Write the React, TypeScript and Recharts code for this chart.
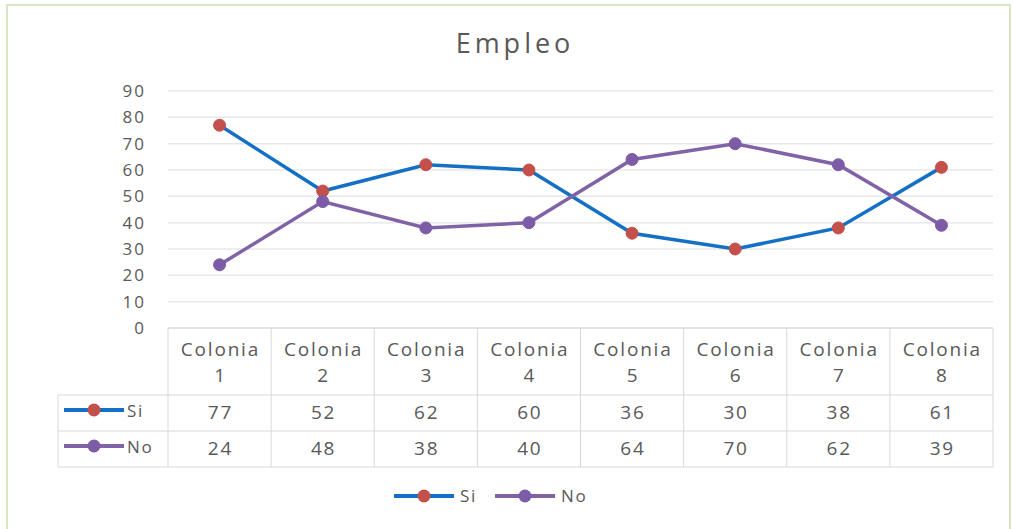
import { LineChart, Line, XAxis, YAxis, CartesianGrid, Legend } from "recharts";

const categories = ["Colonia 1", "Colonia 2", "Colonia 3", "Colonia 4", "Colonia 5", "Colonia 6", "Colonia 7", "Colonia 8"];
const si = [77, 52, 62, 60, 36, 30, 38, 61];
const no = [24, 48, 38, 40, 64, 70, 62, 39];
const yTicks = [0, 10, 20, 30, 40, 50, 60, 70, 80, 90];

const series = [
  { key: "si", name: "Si", line: "#1470c4", dot: "#c4504c" },
  { key: "no", name: "No", line: "#8062a6", dot: "#7c5ca6" },
];

const data = categories.map((c, i) => ({ name: c, si: si[i], no: no[i] }));

const W = 1013;
const H = 529;
const PLOT_LEFT = 168;
const PLOT_RIGHT = 993;
const BAND = (PLOT_RIGHT - PLOT_LEFT) / categories.length;
const HEADER_H = 67;
const ROW_H = 36;
const LABEL_COL = 110;
const TEXT = "#595959";
const BORDER = "#d9d9d9";
const FONT = "'Open Sans', sans-serif";
const SPACING = 1.8;

function Swatch({ x, y, s }: { x: number; y: number; s: (typeof series)[number] }) {
  return (
    <g>
      <line x1={x} y1={y} x2={x + 60} y2={y} stroke={s.line} strokeWidth={4} />
      <circle cx={x + 30} cy={y} r={6.5} fill={s.dot} />
    </g>
  );
}

function TableTick(props: any) {
  const { x, y, payload, index } = props;
  const [word, num] = String(payload.value).split(" ");
  const left = x - BAND / 2;
  const right = x + BAND / 2;
  const bottom = y + HEADER_H + ROW_H * series.length;
  const values = [si[index], no[index]];
  const cx = x + SPACING / 2;
  return (
    <g fontFamily={FONT} fill={TEXT} letterSpacing={SPACING}>
      <line x1={left} y1={y} x2={left} y2={bottom} stroke={BORDER} />
      {index === categories.length - 1 && <line x1={right} y1={y} x2={right} y2={bottom} stroke={BORDER} />}
      {series.map((s, r) => (
        <line key={s.key} x1={index === 0 ? left - LABEL_COL : left} y1={y + HEADER_H + ROW_H * r} x2={right} y2={y + HEADER_H + ROW_H * r} stroke={BORDER} />
      ))}
      <line x1={index === 0 ? left - LABEL_COL : left} y1={bottom} x2={right} y2={bottom} stroke={BORDER} />
      <text x={cx} y={y + 28} textAnchor="middle" fontSize={19} fill={TEXT}>{word}</text>
      <text x={cx} y={y + 54} textAnchor="middle" fontSize={19} fill={TEXT}>{num}</text>
      {values.map((v, r) => (
        <text key={r} x={cx} y={y + HEADER_H + ROW_H * r + 24} textAnchor="middle" fontSize={19} fill={TEXT}>{v}</text>
      ))}
      {index === 0 && (
        <g>
          <line x1={left - LABEL_COL} y1={y + HEADER_H} x2={left - LABEL_COL} y2={bottom} stroke={BORDER} />
          {series.map((s, r) => (
            <g key={s.key}>
              <Swatch x={left - LABEL_COL + 6} y={y + HEADER_H + ROW_H * r + 15} s={s} />
              <text x={left - LABEL_COL + 69} y={y + HEADER_H + ROW_H * r + 22} fontSize={17} fill={TEXT}>{s.name}</text>
            </g>
          ))}
        </g>
      )}
    </g>
  );
}

function BottomLegend() {
  return (
    <svg width={230} height={24} style={{ display: "block", margin: "0 auto" }}>
      <g fontFamily={FONT} letterSpacing={SPACING}>
        <Swatch x={2} y={12} s={series[0]} />
        <text x={68} y={18} fontSize={17} fill={TEXT}>Si</text>
        <Swatch x={103} y={12} s={series[1]} />
        <text x={169} y={18} fontSize={17} fill={TEXT}>No</text>
      </g>
    </svg>
  );
}

export default function App() {
  return (
    <div style={{ position: "absolute", left: 0, top: 0, width: W, height: H, background: "#fff", overflow: "hidden" }}>
      <div style={{ position: "absolute", left: 6, top: 4, width: 1005, height: 540, border: "2px solid #d8e7c2", boxSizing: "border-box" }} />
      <div style={{ position: "absolute", top: 24, left: 0, width: W + 17, textAlign: "center", fontFamily: FONT, fontSize: 27, letterSpacing: 4, color: TEXT }}>
        Empleo
      </div>
      <LineChart
        width={W}
        height={H}
        data={data}
        margin={{ top: 91, left: PLOT_LEFT - 60, right: W - PLOT_RIGHT, bottom: 201 - 137 }}
        style={{ position: "absolute", left: 0, top: 0 }}
      >
        <CartesianGrid vertical={false} stroke="#e8e8e8" strokeWidth={1.5} />
        <YAxis
          domain={[0, 90]}
          ticks={yTicks}
          width={60}
          axisLine={false}
          tickLine={false}
          tickMargin={16}
          tick={{ fill: TEXT, fontSize: 17, fontFamily: FONT, letterSpacing: 2 }}
        />
        <XAxis
          dataKey="name"
          height={137}
          padding={{ left: BAND / 2, right: BAND / 2 }}
          axisLine={{ stroke: BORDER }}
          tickLine={false}
          tickSize={0}
          tickMargin={0}
          interval={0}
          tick={<TableTick />}
        />
        <Legend layout="horizontal" verticalAlign="middle" align="center" wrapperStyle={{ top: 484, left: 0, width: W }} content={<BottomLegend />} />
        {series.map((s) => (
          <Line
            key={s.key}
            dataKey={s.key}
            name={s.name}
            stroke={s.line}
            strokeWidth={3.5}
            dot={{ r: 6, fill: s.dot, stroke: s.dot, strokeWidth: 1 }}
            isAnimationActive={false}
          />
        ))}
      </LineChart>
    </div>
  );
}
